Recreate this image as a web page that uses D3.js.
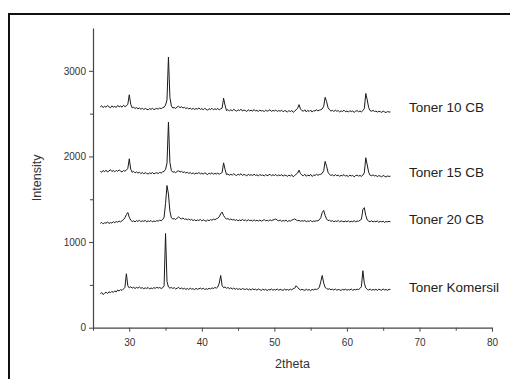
<!DOCTYPE html>
<html>
<head>
<meta charset="utf-8">
<script src="https://cdn.jsdelivr.net/npm/d3@7"></script>
<style>
  html, body { margin: 0; padding: 0; background: #fff; }
  svg { display: block; font-family: "Liberation Sans", Arial, sans-serif; }
</style>
</head>
<body>
<svg id="chart" width="510" height="379"></svg>
<script>
// 2theta grid: 26.0 .. 66.0, step 0.2 (rows of 10 values = 2 degrees)
const thetaStart = 26, thetaStep = 0.2;

const toner10CB = [
  2578, 2592, 2570, 2586, 2574, 2595, 2580, 2568, 2590, 2576,
  2584, 2572, 2596, 2580, 2588, 2575, 2598, 2582, 2590, 2610,
  2720, 2610, 2568, 2575, 2560, 2570, 2556, 2566, 2552, 2562,
  2548, 2560, 2552, 2545, 2558, 2550, 2562, 2547, 2555, 2560,
  2552, 2566, 2558, 2570, 2575, 2600, 2660, 3160, 2690, 2590,
  2565, 2572, 2560, 2578, 2585, 2570, 2580, 2566, 2574, 2560,
  2568, 2555, 2565, 2550, 2562, 2548, 2560, 2553, 2566, 2550,
  2558, 2545, 2562, 2550, 2540, 2558, 2548, 2563, 2545, 2556,
  2548, 2560, 2545, 2555, 2565, 2680, 2600, 2535, 2548, 2530,
  2545, 2532, 2550, 2538, 2528, 2546, 2535, 2552, 2530, 2542,
  2536, 2525, 2545, 2532, 2540, 2528, 2548, 2530, 2538, 2525,
  2542, 2530, 2536, 2524, 2540, 2528, 2535, 2545, 2526, 2538,
  2530, 2542, 2525, 2536, 2528, 2540, 2522, 2535, 2530, 2520,
  2535, 2524, 2538, 2515, 2530, 2545, 2560, 2605, 2555, 2535,
  2528, 2545, 2520, 2538, 2525, 2542, 2518, 2535, 2530, 2545,
  2532, 2540, 2545, 2555, 2585, 2690, 2640, 2570, 2545, 2530,
  2538, 2525, 2540, 2528, 2535, 2520, 2532, 2526, 2540, 2522,
  2530, 2518, 2535, 2524, 2530, 2515, 2528, 2535, 2522, 2530,
  2520, 2535, 2560, 2735, 2660, 2570, 2535, 2528, 2538, 2525,
  2530, 2518, 2528, 2522, 2515, 2530, 2520, 2512, 2525, 2518,
  2520
];

const toner15CB = [
  1828, 1815, 1836, 1822, 1840, 1818, 1830, 1845, 1824, 1835,
  1820, 1838, 1826, 1842, 1830, 1818, 1835, 1828, 1840, 1860,
  1972, 1850, 1815, 1826, 1808, 1820, 1805, 1815, 1800, 1812,
  1798, 1810, 1802, 1795, 1808, 1800, 1812, 1796, 1805, 1810,
  1800, 1815, 1806, 1820, 1825, 1850, 1920, 2400, 1930, 1835,
  1815, 1822, 1808, 1828, 1832, 1818, 1826, 1812, 1820, 1806,
  1815, 1802, 1812, 1798, 1808, 1795, 1806, 1800, 1812, 1796,
  1805, 1792, 1810, 1798, 1788, 1806, 1795, 1810, 1792, 1802,
  1795, 1806, 1792, 1802, 1812, 1925, 1850, 1788, 1795, 1780,
  1792, 1782, 1798, 1785, 1776, 1794, 1783, 1798, 1778, 1790,
  1784, 1772, 1792, 1780, 1788, 1775, 1795, 1778, 1786, 1772,
  1790, 1778, 1784, 1772, 1788, 1776, 1782, 1792, 1774, 1786,
  1778, 1790, 1772, 1784, 1776, 1788, 1770, 1782, 1778, 1768,
  1782, 1772, 1786, 1762, 1778, 1792, 1805, 1840, 1800, 1782,
  1775, 1792, 1768, 1785, 1772, 1790, 1766, 1782, 1778, 1792,
  1780, 1788, 1792, 1802, 1835, 1942, 1885, 1815, 1790, 1778,
  1786, 1772, 1788, 1775, 1782, 1768, 1780, 1774, 1788, 1770,
  1778, 1765, 1782, 1772, 1778, 1762, 1776, 1782, 1770, 1778,
  1768, 1782, 1808, 1985, 1900, 1815, 1780, 1775, 1785, 1772,
  1778, 1765, 1776, 1770, 1762, 1778, 1768, 1760, 1772, 1766,
  1770
];

const toner20CB = [
  1218, 1230, 1212, 1226, 1220, 1235, 1216, 1228, 1222, 1238,
  1226, 1240, 1232, 1245, 1236, 1250, 1262, 1285, 1320, 1345,
  1290, 1255, 1240, 1248, 1236, 1250, 1242, 1255, 1238, 1248,
  1242, 1254, 1236, 1248, 1240, 1252, 1235, 1246, 1240, 1250,
  1245, 1256, 1250, 1262, 1290, 1450, 1660, 1560, 1360, 1285,
  1268, 1275, 1262, 1280, 1295, 1278, 1270, 1282, 1265, 1272,
  1260, 1270, 1255, 1266, 1250, 1262, 1248, 1258, 1252, 1265,
  1248, 1260, 1252, 1244, 1258, 1250, 1262, 1255, 1268, 1260,
  1272, 1280, 1295, 1330, 1350, 1310, 1285, 1268, 1275, 1260,
  1270, 1258, 1265, 1252, 1262, 1248, 1258, 1250, 1264, 1252,
  1258, 1246, 1262, 1250, 1256, 1244, 1260, 1248, 1255, 1245,
  1258, 1244, 1252, 1262, 1248, 1256, 1245, 1260, 1250, 1258,
  1262, 1270, 1255, 1248, 1258, 1242, 1252, 1246, 1256, 1240,
  1250, 1244, 1256, 1262, 1270, 1258, 1248, 1255, 1242, 1250,
  1244, 1252, 1238, 1248, 1240, 1254, 1236, 1246, 1242, 1250,
  1248, 1260, 1285, 1345, 1370, 1310, 1270, 1250, 1256, 1242,
  1250, 1238, 1246, 1240, 1252, 1236, 1248, 1242, 1236, 1245,
  1238, 1248, 1235, 1244, 1238, 1250, 1236, 1246, 1242, 1255,
  1265, 1380, 1402, 1310, 1258, 1245, 1238, 1248, 1235, 1244,
  1238, 1246, 1232, 1242, 1236, 1244, 1230, 1240, 1236, 1242,
  1238
];

const tonerKomersil = [
  395, 410, 388, 402, 415, 398, 420, 408, 425, 412,
  430, 418, 440, 428, 445, 435, 452, 470, 630, 490,
  465, 478, 462, 472, 458, 470, 462, 475, 460, 468,
  455, 466, 458, 470, 452, 464, 456, 468, 460, 472,
  462, 470, 458, 466, 490, 1100, 540, 475, 462, 470,
  458, 468, 452, 462, 470, 455, 464, 450, 460, 448,
  458, 446, 462, 450, 456, 444, 460, 448, 455, 462,
  450, 462, 445, 456, 448, 460, 452, 465, 458, 470,
  462, 475, 520, 610, 490, 468, 476, 460, 470, 456,
  466, 452, 462, 448, 458, 446, 456, 444, 458, 450,
  446, 456, 442, 452, 440, 455, 444, 450, 438, 452,
  444, 436, 450, 440, 448, 434, 446, 440, 452, 438,
  446, 440, 452, 438, 448, 442, 436, 450, 440, 446,
  438, 450, 442, 456, 460, 490, 472, 452, 440, 448,
  442, 436, 450, 438, 446, 432, 448, 440, 452, 445,
  455, 470, 540, 610, 520, 470, 458, 448, 455, 442,
  450, 440, 452, 438, 446, 442, 436, 448, 440, 450,
  438, 446, 440, 452, 436, 448, 442, 450, 445, 458,
  480, 665, 520, 465, 448, 440, 452, 438, 446, 440,
  448, 436, 450, 442, 438, 452, 440, 446, 436, 448,
  446
];

const seriesNames = ["Toner 10 CB", "Toner 15 CB", "Toner 20 CB", "Toner Komersil"];
const seriesValues = [toner10CB, toner15CB, toner20CB, tonerKomersil];
const labelLevels = [2570, 1820, 1265, 475];   // intensity level of each series label

const xTicksMajor = [30, 40, 50, 60, 70, 80];
const xTicksMinor = [25, 35, 45, 55, 65, 75];
const yTicksMajor = [0, 1000, 2000, 3000];
const yTicksMinor = [500, 1500, 2500];
const xDomain = [25, 80];
const yDomain = [0, 3500];

const svg = d3.select("#chart");

// outer frame (extends past the right/bottom edge of the picture)
svg.append("rect")
  .attr("x", 9).attr("y", 14)
  .attr("width", 600).attr("height", 600)
  .attr("fill", "none").attr("stroke", "#111").attr("stroke-width", 2);

const x = d3.scaleLinear().domain(xDomain).range([93, 492]);
const y = d3.scaleLinear().domain(yDomain).range([327.7, 28]);

const axisColor = "#444";

// x axis
const gx = svg.append("g").attr("transform", `translate(0,${y(0)})`);
gx.call(d3.axisBottom(x).tickValues(xTicksMajor).tickSize(4).tickSizeOuter(0).tickFormat(d3.format("d")));
gx.append("g").call(d3.axisBottom(x).tickValues(xTicksMinor).tickSize(3).tickSizeOuter(0).tickFormat(""))
  .select(".domain").remove();

// y axis
const gy = svg.append("g").attr("transform", `translate(${x(25)},0)`);
gy.call(d3.axisLeft(y).tickValues(yTicksMajor).tickSize(4).tickSizeOuter(0).tickFormat(d3.format("d")));
gy.append("g").call(d3.axisLeft(y).tickValues(yTicksMinor).tickSize(3).tickSizeOuter(0).tickFormat(""))
  .select(".domain").remove();

svg.selectAll(".domain").attr("stroke", axisColor).attr("stroke-width", 1.2);
svg.selectAll(".tick line").attr("stroke", axisColor);
svg.selectAll(".tick text").attr("fill", "#333").style("font-size", "10px")
  .style("font-family", "'Liberation Sans', Arial, sans-serif");
gx.selectAll(".tick text").attr("dy", "1.1em");

// axis titles
svg.append("text").attr("x", (x(25) + x(80)) / 2).attr("y", 368)
  .attr("text-anchor", "middle").attr("fill", "#333").style("font-size", "12.5px").text("2theta");
svg.append("text").attr("transform", `translate(41,${y(1750)}) rotate(-90)`)
  .attr("text-anchor", "middle").attr("fill", "#333").style("font-size", "12.5px").text("Intensity");

// traces
const line = d3.line()
  .x((d, i) => x(thetaStart + i * thetaStep))
  .y(d => y(d));

svg.append("g").selectAll("path").data(seriesValues).join("path")
  .attr("d", line)
  .attr("fill", "none")
  .attr("stroke", "#1a1a1a")
  .attr("stroke-width", 1)
  .attr("stroke-linejoin", "round");

// series labels
svg.append("g").selectAll("text").data(seriesNames).join("text")
  .attr("x", 409)
  .attr("y", (d, i) => y(labelLevels[i]))
  .attr("dy", "0.35em")
  .attr("fill", "#222")
  .style("font-size", "13.5px")
  .text(d => d);
</script>
</body>
</html>
